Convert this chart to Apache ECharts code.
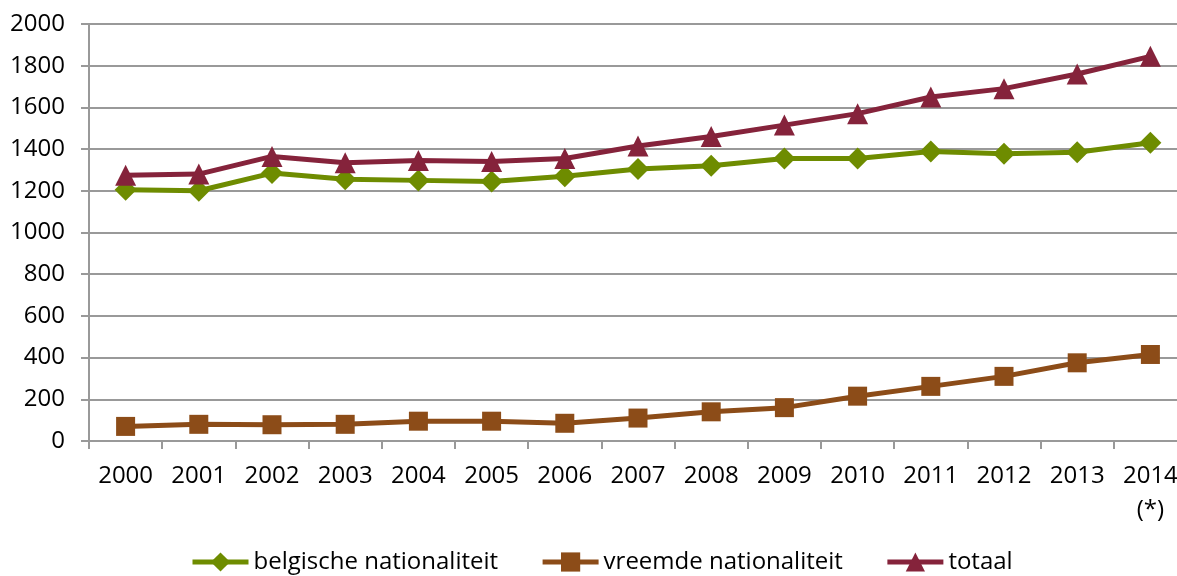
<!DOCTYPE html>
<html>
<head>
<meta charset="utf-8">
<script src="https://cdn.jsdelivr.net/npm/echarts@6/dist/echarts.min.js"></script>
<style>
html, body { margin: 0; padding: 0; background: #fff; }
#myChart { width: 1177px; height: 576px; }
</style>
</head>
<body>
<div id="myChart"></div>
<script>
// gegevens
var jaren = ['2000', '2001', '2002', '2003', '2004', '2005', '2006', '2007', '2008', '2009', '2010', '2011', '2012', '2013', '2014\n(*)'];
var belgisch = [1205, 1200, 1285, 1255, 1250, 1245, 1270, 1305, 1320, 1355, 1355, 1388, 1378, 1385, 1430];
var vreemd = [70, 80, 78, 80, 95, 95, 85, 110, 140, 160, 215, 262, 310, 375, 415];
var totaal = [1275, 1280, 1365, 1335, 1345, 1340, 1355, 1415, 1460, 1515, 1570, 1650, 1690, 1760, 1845];
var yTicks = [0, 2000, 200];

var myChart = echarts.init(document.getElementById('myChart'));
var font = '"Open Sans", Lato, sans-serif';

function reeks(naam, data, kleur, symbool, grootte) {
  return {
    name: naam,
    type: 'line',
    data: data,
    symbol: symbool,
    symbolSize: grootte,
    itemStyle: { color: kleur },
    lineStyle: { color: kleur, width: 5 },
    animation: false
  };
}

myChart.setOption({
  textStyle: { fontFamily: font },
  grid: { left: 89, top: 24, width: 1098, bottom: 135, outerBoundsMode: 'none', containLabel: false },
  legend: {
    bottom: 2,
    left: 190,
    padding: 0,
    itemWidth: 56,
    itemHeight: 24,
    itemGap: 42,
    lineStyle: { width: 5 },
    textStyle: { fontSize: 24, color: '#000', fontFamily: font },
    data: ['belgische nationaliteit', 'vreemde nationaliteit', 'totaal']
  },
  xAxis: {
    type: 'category',
    data: jaren,
    boundaryGap: true,
    axisLine: { lineStyle: { color: '#999', width: 2 } },
    axisTick: { show: true, length: 8, lineStyle: { color: '#999', width: 2 } },
    axisLabel: { color: '#000', fontSize: 24, margin: 18, lineHeight: 34, interval: 0, fontFamily: font }
  },
  yAxis: {
    type: 'value',
    min: yTicks[0],
    max: yTicks[1],
    interval: yTicks[2],
    axisLine: { show: true, lineStyle: { color: '#999', width: 2 } },
    axisTick: { show: true, length: 8, lineStyle: { color: '#999', width: 2 } },
    splitLine: { lineStyle: { color: '#999', width: 2 } },
    axisLabel: {
      color: '#000', fontSize: 24, margin: 24, fontFamily: font,
      formatter: function (v) { return String(v); }
    }
  },
  series: [
    reeks('belgische nationaliteit', belgisch, '#6e8c00', 'diamond', 22),
    reeks('vreemde nationaliteit', vreemd, '#8c4c18', 'rect', 19),
    reeks('totaal', totaal, '#85233b', 'triangle', 21)
  ]
});
</script>
</body>
</html>
